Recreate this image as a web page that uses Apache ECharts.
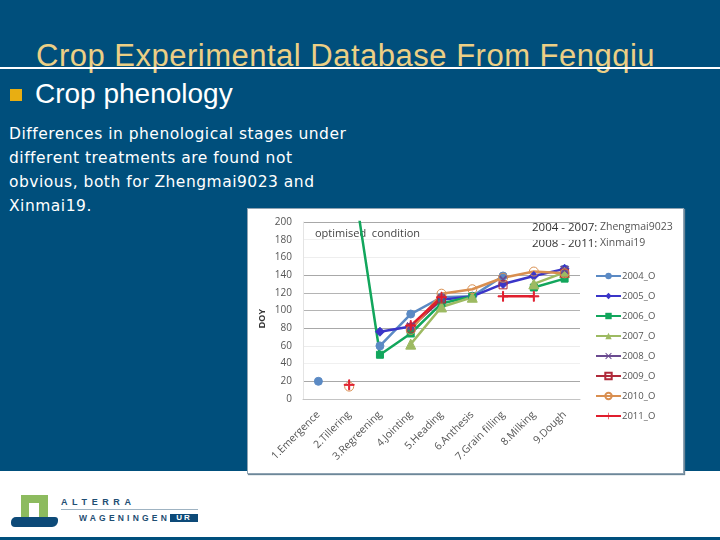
<!DOCTYPE html>
<html>
<head>
<meta charset="utf-8">
<script src="https://cdn.jsdelivr.net/npm/echarts@6/dist/echarts.min.js"></script>
<style>
  html, body { margin: 0; padding: 0; }
  #slide { position: relative; width: 720px; height: 540px; overflow: hidden; background: #004f7c; font-family: "Liberation Sans", sans-serif; }
  #slide div { position: absolute; white-space: nowrap; }
  #chart { left: 0; top: 0; width: 720px; height: 540px; }
  .title { left: 36px; top: 39px; font-size: 31px; letter-spacing: 0.5px; line-height: 34px; color: #eccf85; }
  .rule { left: 0; top: 67px; width: 720px; height: 2px; background: #fff; }
  .bullet { left: 10px; top: 89px; width: 12px; height: 12px; background: #e8ae12; }
  .head { left: 35px; top: 78px; font-size: 28px; line-height: 32px; color: #fff; }
  .body { left: 9px; top: 122px; font-family: "DejaVu Sans", sans-serif; font-size: 15.5px; letter-spacing: 0.5px; line-height: 24px; color: #fff; }
  .strip { left: 0; top: 471px; width: 720px; height: 66px; background: #fff; }
  .panel { left: 247px; top: 208px; width: 435px; height: 264px; background: #fff; border: 1px solid #8fa3b3; box-shadow: 1px 1px 1px #6d8798; }
  .gate { left: 21px; top: 495px; width: 27px; height: 24px; background: #8dbb5f; }
  .door { left: 29px; top: 503px; width: 10px; height: 16px; background: #fff; }
  .ground { left: 11px; top: 517px; width: 47px; height: 10px; background: #0d4a78; border-radius: 5px 3px 6px 4px; }
  .alterra { left: 61px; top: 496px; font-size: 9px; line-height: 12px; font-weight: bold; letter-spacing: 4.6px; color: #1f4e73; }
  .logoline { left: 61px; top: 509px; width: 137px; height: 1px; background: #9fb3c2; }
  .wag { left: 79px; top: 512px; font-size: 8.5px; line-height: 12px; font-weight: bold; letter-spacing: 3.2px; color: #1f4e73; }
  .ur { left: 170px; top: 514px; width: 28px; height: 8px; background: #0d4a78; color: #fff; font-size: 8px; line-height: 8px; font-weight: bold; letter-spacing: 2px; text-align: center; }
</style>
</head>
<body>
<div id="slide">
  <div class="title">Crop Experimental Database From Fengqiu</div>
  <div class="rule"></div>
  <div class="bullet"></div>
  <div class="head">Crop phenology</div>
  <div class="body">Differences in phenological stages under<br>different treatments are found not<br>obvious, both for Zhengmai9023 and<br>Xinmai19.</div>
  <div class="strip"></div>
  <div class="panel"></div>
  <div class="gate"></div>
  <div class="door"></div>
  <div class="ground"></div>
  <div class="alterra">ALTERRA</div>
  <div class="logoline"></div>
  <div class="wag">WAGENINGEN</div>
  <div class="ur">UR</div>
  <div id="chart"></div>
</div>
<script>
var categories = ["1.Emergence", "2.Tillering", "3.Regreening", "4.Jointing", "5.Heading", "6.Anthesis", "7.Grain filling", "8.Milking", "9.Dough"];

var o2004 = [20, null, 60, 96, 115, 116, 139, null, 147];
var o2005 = [null, null, 76, 82, 112, 116, 130, 139, 147];
var o2006 = [null, 279, 50, 74, 108, 116, null, 126, 136];
var o2007 = [null, null, null, 62, 104, 115, null, 130, 143];
var o2008 = [null, null, null, 82, 113, null, 135, null, 146];
var o2009 = [null, null, null, 80, 113, null, 129, null, 142];
var o2010 = [null, 14, null, 78, 119, 124, 137, 144, 142];
var o2011 = [null, 16, null, 83, 115, null, 116, 116, null];

// grid line shades, they differ a lot in the scan
var gridColors = ["#bdbdbd", "#a8a8a8", "#f0f0f0", "#ececec", "#a8a8a8", "#b4b4b4", "#b4b4b4", "#a8a8a8", "#eeeeee", "#f0f0f0", "#a8a8a8"];

var plusPath = "path://M4.5 0h1v4.5H10v1H5.5V10h-1V5.5H0v-1h4.5z";
var crossPath = "path://M1 0l4 4 4-4 1 1-4 4 4 4-1 1-4-4-4 4-1-1 4-4-4-4z";

function makeSeries(name, data, color, symbol, size, width, hollow) {
  return {
    name: name,
    type: "line",
    data: data,
    symbol: symbol,
    symbolSize: size,
    showAllSymbol: true,
    connectNulls: false,
    clip: true,
    lineStyle: { color: color, width: width },
    // hollow markers let the other lines show through, as in the original
    itemStyle: hollow
      ? { color: "transparent", borderColor: color, borderWidth: 1 }
      : { color: color, borderColor: color },
    emphasis: { disabled: true }
  };
}

var myChart = echarts.init(document.getElementById("chart"), null, { renderer: "canvas" });

var option = {
  animation: false,
  backgroundColor: "transparent",
  textStyle: { fontFamily: "Open Sans" },
  grid: { left: 303, right: 140, top: 222, bottom: 141, containLabel: false },
  legend: {
    orient: "vertical",
    left: 590,
    top: 266,
    itemWidth: 25,
    itemHeight: 8,
    itemGap: 10,
    data: ["2004_O", "2005_O", "2006_O", "2007_O", "2008_O", "2009_O", "2010_O", "2011_O"],
    textStyle: { color: "#555", fontSize: 9.5, padding: [0, 0, 0, -4] }
  },
  xAxis: {
    type: "category",
    data: categories,
    axisLine: { lineStyle: { color: "#c4c4c4" } },
    axisTick: { alignWithLabel: true, length: 4, lineStyle: { color: "#bdbdbd" } },
    axisLabel: { rotate: 45, interval: 0, fontSize: 10.5, color: "#555", margin: 14 }
  },
  yAxis: {
    type: "value",
    min: 0,
    max: 200,
    interval: 20,
    name: "DOY",
    nameLocation: "middle",
    nameGap: 36,
    nameTextStyle: { color: "#333", fontSize: 9, fontWeight: "bold", fontFamily: "Liberation Sans", padding: [0, 16, 0, 0] },
    axisLine: { show: true, lineStyle: { color: "#e4e4e4" } },
    axisTick: { show: false },
    axisLabel: { fontSize: 10, color: "#555", margin: 11 },
    splitLine: { lineStyle: { color: gridColors, width: 1 } }
  },
  graphic: [
    // the note box hides the right end of the top grid lines
    { type: "rect", left: 522, top: 216, shape: { width: 60, height: 36 }, style: { fill: "#fff" } },
    { type: "text", left: 315, top: 228, style: { text: "optimised  condition", fill: "#444", font: "11px 'Open Sans'" } },
    { type: "text", left: 532, top: 222, style: { text: "2004 - 2007:", fill: "#333", font: "11.5px 'Open Sans'" } },
    { type: "text", left: 532, top: 238, style: { text: "2008 - 2011:", fill: "#333", font: "11.5px 'Open Sans'" } },
    { type: "text", left: 600, top: 222, style: { text: "Zhengmai9023", fill: "#555", font: "10.5px 'Open Sans'" } },
    { type: "text", left: 600, top: 238, style: { text: "Xinmai19", fill: "#555", font: "10.5px 'Open Sans'" } }
  ],
  series: [
    makeSeries("2004_O", o2004, "#5b8ac4", "circle", 8, 2.5),
    makeSeries("2005_O", o2005, "#3a35c8", "diamond", 9, 2.5),
    makeSeries("2006_O", o2006, "#12a65c", "rect", 7, 2.5),
    makeSeries("2007_O", o2007, "#9dba62", "triangle", 10, 2.5),
    makeSeries("2008_O", o2008, "#6a4a90", crossPath, 8, 1.5),
    makeSeries("2009_O", o2009, "#b02a3a", "rect", 8, 2, true),
    makeSeries("2010_O", o2010, "#d98f50", "circle", 9, 2.5, true),
    makeSeries("2011_O", o2011, "#e01e2d", plusPath, 10, 2.5)
  ]
};

myChart.setOption(option);
</script>
</body>
</html>
